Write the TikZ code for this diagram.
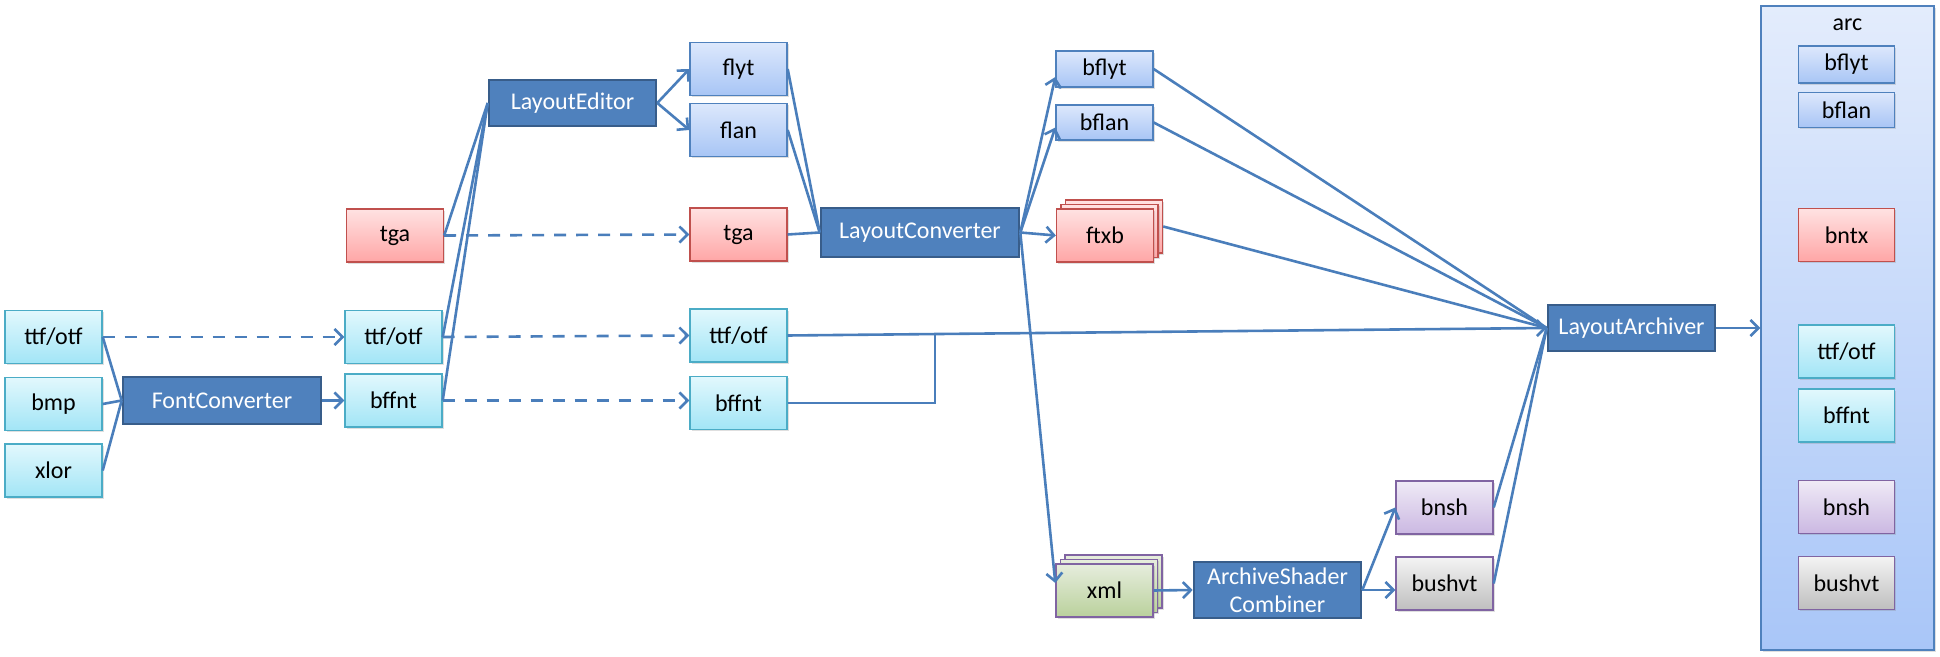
\documentclass[tikz,border=0pt]{standalone}
\usepackage{fontspec}
\setmainfont{Carlito}
\usetikzlibrary{arrows.meta,shadows,calc}
\definecolor{edgec}{HTML}{4A7EBB}
\definecolor{darkfill}{HTML}{4F81BD}
\definecolor{darkborder}{HTML}{385D8A}
\definecolor{cyanD}{HTML}{4BACC6}
\definecolor{cyanT}{HTML}{E2F8FD}
\definecolor{cyanB}{HTML}{A2E5F6}
\definecolor{blueD}{HTML}{4F81BD}
\definecolor{blueT}{HTML}{DDE8FC}
\definecolor{blueB}{HTML}{A8C5F5}
\definecolor{redD}{HTML}{C0504D}
\definecolor{redT}{HTML}{FFE2E2}
\definecolor{redB}{HTML}{FFA6A6}
\definecolor{purD}{HTML}{8064A2}
\definecolor{greenT}{HTML}{E6EDDD}
\definecolor{greenB}{HTML}{BAD19C}
\definecolor{purT}{HTML}{EFEAF6}
\definecolor{purB}{HTML}{CBB8E2}
\definecolor{grayT}{HTML}{F4F4F4}
\definecolor{grayB}{HTML}{BFBFBF}
\definecolor{contT}{HTML}{E3ECFC}
\definecolor{contB}{HTML}{A9C6F8}
\tikzset{
  base/.style={rectangle, inner sep=0pt, font=\fontsize{12}{14}\selectfont, text=black, line width=0.7pt,
    drop shadow={shadow xshift=0.9pt, shadow yshift=-0.9pt, opacity=0.25}},
  sbox/.style={base, minimum width=48.5pt, minimum height=26.5pt},
  cyanbox/.style={sbox, draw=cyanD, top color=cyanT, bottom color=cyanB},
  bluebox/.style={sbox, draw=blueD, top color=blueT, bottom color=blueB},
  redbox/.style={sbox, draw=redD, top color=redT, bottom color=redB},
  greenbox/.style={sbox, draw=purD, top color=greenT, bottom color=greenB},
  purbox/.style={sbox, draw=purD, top color=purT, bottom color=purB},
  graybox/.style={sbox, draw=purD, top color=grayT, bottom color=grayB},
  contbox/.style={base, draw=blueD, top color=contT, bottom color=contB, minimum width=86.5pt, minimum height=322pt},
  proc/.style={rectangle, inner sep=0pt, draw=darkborder, fill=darkfill, line width=1.3pt, text=white,
    font=\fontsize{12}{14}\selectfont, minimum width=83.5pt, minimum height=23pt, align=center},
  conn/.style={draw=edgec, line width=1.3pt},
  arr/.style={conn, -{Straight Barb[length=4pt,width=8pt,line width=1.3pt]}},
  dconn/.style={arr, dash pattern=on 6pt off 5pt},
}
\begin{document}
\begin{tikzpicture}[x=0.5pt, y=-0.5pt]
\useasboundingbox (0,0) rectangle (1940,657);
% left column
\node[cyanbox] (ttfA) at (53.5,337) {ttf/otf};
\node[cyanbox] (bmp) at (53.5,404) {bmp};
\node[cyanbox] (xlor) at (53.5,470.5) {xlor};
\node[proc, minimum width=99pt, minimum height=23.5pt] (FC) at (222,400.5) {FontConverter};
\node[redbox] (tgaA) at (395,235.5) {tga};
\node[cyanbox] (ttfB) at (393.5,337) {ttf/otf};
\node[cyanbox] (bffntB) at (393.5,400.5) {bffnt};
\node[proc] (LE) at (572.5,103) {LayoutEditor};
\node[bluebox] (flyt) at (738.5,69) {flyt};
\node[bluebox] (flan) at (738.5,130) {flan};
\node[redbox] (tgaB) at (738.5,234.5) {tga};
\node[cyanbox] (ttfC) at (738.5,335.5) {ttf/otf};
\node[cyanbox] (bffntC) at (738.5,403) {bffnt};
\node[proc, minimum width=99pt, minimum height=24.5pt] (LC) at (920,232.5) {LayoutConverter};
\node[bluebox, minimum height=18pt] (bflyt) at (1104.5,69) {bflyt};
\node[bluebox, minimum height=17.5pt] (bflan) at (1104.5,122.5) {bflan};
\node[redbox] (ftxb3) at (1114,226.5) {};
\node[redbox] (ftxb2) at (1109.5,231) {};
\node[redbox] (ftxb) at (1105,235.5) {ftxb};
\node[greenbox] (xml3) at (1113.5,581.5) {};
\node[greenbox] (xml2) at (1109,586) {};
\node[greenbox] (xml) at (1104.5,590.5) {xml};
\node[proc, minimum height=28pt, font=\fontsize{12}{14}\selectfont] (ASC) at (1277.5,590) {ArchiveShader\\Combiner};
\node[purbox] (bnsh) at (1444.5,507.5) {bnsh};
\node[graybox] (bushvt) at (1444.5,583.5) {bushvt};
\node[proc] (LA) at (1631.5,328) {LayoutArchiver};
% archive container
\node[contbox] (arc) at (1847.5,328) {};
\node[font=\fontsize{12}{14}\selectfont] (arcl) at (1847.5,25) {arc};
\node[bluebox, minimum width=48pt, minimum height=18.5pt] (bflytI) at (1846.5,64.5) {bflyt};
\node[bluebox, minimum width=48pt, minimum height=17.5pt] (bflanI) at (1846.5,110) {bflan};
\node[redbox, minimum width=48pt] (bntx) at (1846.5,235) {bntx};
\node[cyanbox, minimum width=48pt] (ttfI) at (1846.5,351.5) {ttf/otf};
\node[cyanbox, minimum width=48pt] (bffntI) at (1846.5,415.5) {bffnt};
\node[purbox, minimum width=48pt] (bnshI) at (1846.5,507) {bnsh};
\node[graybox, minimum width=48pt] (bushvtI) at (1846.5,583) {bushvt};
% connectors
\draw[conn] (ttfA.east) -- (FC.west);
\draw[conn] (bmp.east) -- (FC.west);
\draw[conn] (xlor.east) -- (FC.west);
\draw[dconn] (ttfA.east) -- (ttfB.west);
\draw[arr] (FC.east) -- (bffntB.west);
\draw[conn] (tgaA.east) -- (LE.west);
\draw[conn] (ttfB.east) -- (LE.west);
\draw[conn] (bffntB.east) -- (LE.west);
\draw[dconn] (tgaA.east) -- (tgaB.west);
\draw[dconn] (ttfB.east) -- (ttfC.west);
\draw[dconn] (bffntB.east) -- (bffntB.east -| bffntC.west);
\draw[arr] (LE.east) -- (flyt.west);
\draw[arr] (LE.east) -- (flan.west);
\draw[conn] (flyt.east) -- (LC.west);
\draw[conn] (flan.east) -- (LC.west);
\draw[conn] (tgaB.east) -- (LC.west);
\draw[arr] (LC.east) -- ([yshift=-4pt]bflyt.west);
\draw[arr] (LC.east) -- ([yshift=-2.5pt]bflan.west);
\draw[arr] (LC.east) -- (ftxb.west);
\draw[arr] (LC.east) -- ([yshift=3.75pt]xml.west);
\draw[conn] (bflyt.east) -- (LA.west);
\draw[conn] (bflan.east) -- (LA.west);
\draw[conn] (ftxb3.east) -- (LA.west);
\draw[arr] (ttfC.east) -- (LA.west);
\path (ttfC.east) -- (LA.west) coordinate[pos=0.194] (j);
\draw[conn] (bffntC.east) -| (j);
\draw[arr] (xml.east) -- (ASC.west);
\draw[arr] (ASC.east) -- (bnsh.west);
\draw[arr] (ASC.east) -- (ASC.east -| bushvt.west);
\draw[conn] (bnsh.east) -- (LA.west);
\draw[conn] (bushvt.east) -- (LA.west);
\draw[arr] (LA.east) -- (arc.west);
\end{tikzpicture}
\end{document}
